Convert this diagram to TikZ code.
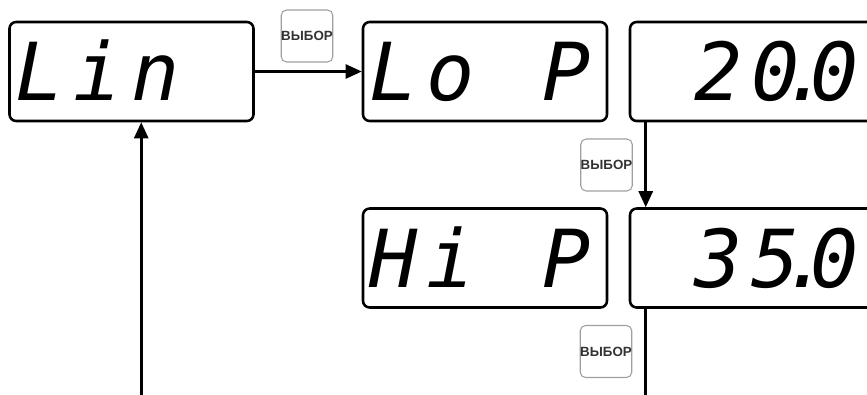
\documentclass[tikz,border=0pt]{standalone}
\usepackage{fontspec}
\newfontfamily\lcdfont{DejaVu Sans Mono}
\newfontfamily\btnfont{Liberation Sans}
\usetikzlibrary{arrows.meta}
\newcommand\lcdcell[1]{\makebox[43.5pt][l]{#1}}
\tikzset{
  lcdbox/.style={draw, line width=1.9pt, rounded corners=5pt, minimum width=183pt,
    minimum height=74.25pt, text height=43.5pt, text depth=0pt, inner sep=0pt,
    font=\lcdfont\itshape\fontsize{60}{60}\selectfont},
  knopka/.style={draw=gray!75, line width=0.8pt, rounded corners=4pt, minimum width=37.5pt,
    minimum height=39pt, inner sep=0pt, text=black!80,
    font=\btnfont\bfseries\fontsize{10}{10}\selectfont},
  strelka/.style={line width=1.9pt, -{Triangle[length=12pt,width=10.5pt]}}
}
\begin{document}
\begin{tikzpicture}[x=0.75pt,y=-0.75pt]
  \useasboundingbox (0,0) rectangle (867,394);
  \clip (0,0) rectangle (867,394);
  % displays
  \node[lcdbox] (lin) at (131.5,71.5) {\lcdcell{L}\lcdcell{i}\lcdcell{n}\lcdcell{}};
  \node[lcdbox] (lop) at (485,71.5) {\lcdcell{L}\lcdcell{o}\lcdcell{}\lcdcell{P}};
  \node[lcdbox] (lowval) at (752,71.5) {\lcdcell{}\lcdcell{2}\lcdcell{0\kern-13pt.}\lcdcell{0}};
  \node[lcdbox] (hip) at (485,258) {\lcdcell{H}\lcdcell{i}\lcdcell{}\lcdcell{P}};
  \node[lcdbox] (highval) at (752,258) {\lcdcell{}\lcdcell{3}\lcdcell{5\kern-13pt.}\lcdcell{0}};
  % buttons
  \node[knopka] (btnA) at (307,36) {ВЫБОР};
  \node[knopka] (btnB) at (606.5,165) {ВЫБОР};
  \node[knopka] (btnC) at (606,351.5) {ВЫБОР};
  % transitions
  \draw[strelka] (lin.east) -- (lop.west);
  \draw[strelka] ([shift={(17,0)}]lowval.south west) -- ([shift={(17,0)}]highval.north west);
  \draw[strelka] ([shift={(17,0)}]highval.south west) -- ++(0,110) -| ([shift={(133,0)}]lin.south west);
\end{tikzpicture}
\end{document}
